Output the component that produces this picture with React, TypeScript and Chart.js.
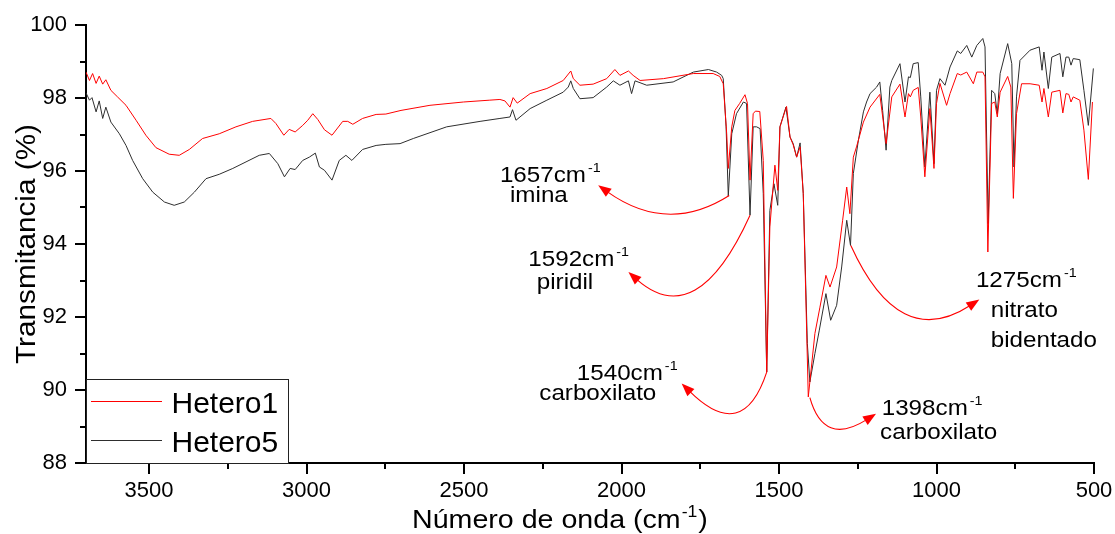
import React, { useEffect, useRef } from 'react';
import { Chart, registerables } from 'chart.js';

Chart.register(...registerables);

// ---------- data ----------
const seriesNames = ['Hetero1', 'Hetero5'];

const hetero1Wn = [
  3700, 3689, 3679, 3668, 3658, 3647, 3637, 3621, 3600, 3573, 3541, 3510, 3478, 3436, 3404, 3372, 3330, 3277, 3224, 3171,
  3113, 3097, 3072, 3055, 3036, 3012, 2996, 2980, 2964, 2943, 2919, 2885, 2869, 2853, 2822, 2779, 2748, 2700, 2608, 2502,
  2420, 2386, 2370, 2354, 2344, 2331, 2290, 2237, 2185, 2161, 2153, 2132, 2090, 2047, 2021, 2005, 1978, 1963, 1941, 1867,
  1772, 1709, 1688, 1677, 1666, 1661, 1650, 1640, 1625, 1608, 1600, 1592, 1582, 1575, 1561, 1550, 1539, 1529, 1513, 1504,
  1497, 1476, 1465, 1455, 1444, 1433, 1423, 1407, 1386, 1370, 1351, 1338, 1317, 1298, 1285, 1275, 1264, 1254, 1232, 1211,
  1180, 1160, 1142, 1116, 1100, 1089, 1083, 1074, 1058, 1050, 1037, 1021, 1008, 1000, 989, 968, 957, 934, 923, 904,
  883, 872, 853, 846, 837, 825, 815, 807, 798, 774, 764, 756, 746, 730, 703, 674, 665, 659, 645, 634,
  608, 599, 589, 580, 573, 566, 545, 532, 518, 505,
];
const hetero1T = [
  98.71, 98.48, 98.67, 98.4, 98.6, 98.38, 98.5, 98.21, 98.03, 97.8, 97.39, 96.98, 96.64, 96.46, 96.43, 96.59, 96.89, 97.02, 97.21, 97.36,
  97.44, 97.3, 96.98, 97.14, 97.07, 97.25, 97.39, 97.57, 97.41, 97.13, 96.98, 97.36, 97.36, 97.28, 97.44, 97.55, 97.56, 97.66, 97.8, 97.89,
  97.94, 97.96, 97.92, 97.75, 98.01, 97.86, 98.12, 98.26, 98.48, 98.74, 98.53, 98.35, 98.38, 98.53, 98.78, 98.62, 98.74, 98.62, 98.48, 98.53,
  98.67, 98.67, 98.59, 98.39, 97.02, 96.07, 97.21, 97.66, 97.85, 98.09, 97.85, 95.75, 97.57, 97.64, 97.63, 96.29, 90.49, 94.47, 96.16, 95.47,
  97.21, 97.77, 96.93, 96.72, 96.38, 96.66, 95.38, 89.81, 91.55, 92.27, 93.14, 92.82, 93.37, 94.65, 95.56, 94.83, 96.38, 96.66, 97.34, 97.75,
  98.1, 96.75, 98.03, 98.38, 97.48, 98.12, 98.03, 98.21, 98.29, 97.48, 95.84, 97.71, 96.07, 97.85, 98.4, 97.8, 98.12, 98.67, 98.63, 98.71,
  98.39, 98.71, 98.71, 98.58, 93.78, 97.85, 97.89, 97.48, 98.16, 98.59, 98.3, 95.25, 97.57, 98.39, 98.39, 98.35, 97.89, 98.26, 97.48, 98.16,
  98.21, 97.59, 98.12, 98.1, 97.89, 98.03, 97.94, 97.12, 95.77, 97.89,
];

const hetero5Wn = [
  3700, 3689, 3681, 3668, 3658, 3647, 3637, 3621, 3594, 3573, 3552, 3520, 3488, 3451, 3420, 3388, 3356, 3319, 3277, 3234,
  3192, 3150, 3118, 3091, 3070, 3052, 3036, 3012, 2991, 2972, 2959, 2943, 2919, 2896, 2875, 2856, 2822, 2779, 2748, 2703,
  2661, 2555, 2449, 2386, 2354, 2346, 2335, 2290, 2237, 2185, 2169, 2161, 2153, 2132, 2090, 2047, 2026, 2005, 1978, 1968,
  1957, 1920, 1836, 1772, 1724, 1698, 1682, 1677, 1668, 1661, 1650, 1635, 1613, 1603, 1592, 1582, 1571, 1560, 1550, 1539,
  1529, 1516, 1504, 1497, 1478, 1465, 1455, 1444, 1433, 1423, 1410, 1402, 1386, 1372, 1351, 1336, 1317, 1301, 1285, 1273,
  1264, 1248, 1232, 1222, 1211, 1190, 1180, 1171, 1160, 1148, 1142, 1116, 1100, 1089, 1083, 1074, 1058, 1050, 1037, 1021,
  1008, 1000, 989, 973, 957, 934, 923, 904, 888, 872, 853, 846, 836, 825, 815, 807, 798, 774, 761, 754,
  746, 735, 703, 674, 665, 659, 645, 634, 608, 599, 589, 580, 573, 566, 545, 532, 518, 502,
];
const hetero5T = [
  98.14, 97.94, 98.01, 97.62, 97.92, 97.44, 97.75, 97.34, 97.02, 96.7, 96.29, 95.79, 95.42, 95.15, 95.06, 95.15, 95.42, 95.79, 95.91, 96.07,
  96.25, 96.43, 96.48, 96.2, 95.84, 96.07, 96.04, 96.29, 96.38, 96.49, 96.11, 96.02, 95.75, 96.29, 96.43, 96.29, 96.59, 96.7, 96.73, 96.75,
  96.89, 97.21, 97.36, 97.44, 97.48, 97.68, 97.39, 97.71, 97.94, 98.16, 98.3, 98.47, 98.26, 97.98, 98.01, 98.3, 98.47, 98.35, 98.47, 98.12,
  98.47, 98.35, 98.44, 98.71, 98.78, 98.71, 98.62, 98.53, 97.21, 95.31, 97.02, 97.57, 97.89, 97.85, 94.79, 97.21, 97.21, 97.16, 95.38, 90.49,
  94.92, 95.65, 95.06, 97.21, 97.75, 96.93, 96.75, 96.38, 96.77, 95.38, 91.27, 90.22, 91.0, 91.64, 92.64, 91.91, 92.32, 93.37, 94.65, 93.96,
  95.93, 96.84, 97.62, 97.89, 98.12, 98.3, 98.44, 97.66, 96.57, 98.3, 98.48, 98.94, 97.89, 98.58, 98.56, 98.94, 98.97, 98.03, 96.11, 98.16,
  96.2, 98.21, 98.53, 98.35, 98.85, 99.29, 99.22, 99.44, 99.12, 99.44, 99.63, 99.4, 94.56, 98.21, 98.12, 97.57, 98.67, 99.49, 98.94, 96.11,
  98.03, 99.03, 99.31, 99.4, 98.76, 99.26, 98.26, 99.12, 99.22, 98.58, 99.12, 99.12, 98.9, 99.08, 99.05, 98.21, 97.25, 98.81,
];

const xTicks = [3500, 3000, 2500, 2000, 1500, 1000, 500];
const xMinorTicks = [3250, 2750, 2250, 1750, 1250, 750];
const yTicks = [88, 90, 92, 94, 96, 98, 100];
const yMinorTicks = [89, 91, 93, 95, 97, 99];

// annotation texts
const peakLabels = ['1657cm', '1592cm', '1540cm', '1398cm', '1275cm'];
const peakNames = [['imina'], ['piridil'], ['carboxilato'], ['carboxilato'], ['nitrato', 'bidentado']];

// annotation anchors (data coordinates: wavenumber, transmittance)
const arrowStart = [[1658, 95.33], [1592, 94.79], [1539, 90.49], [1402, 89.79], [1272, 93.96]];
const arrowLow = [[1836, 94.84], [1836, 92.66], [1656, 89.42], [1306, 88.99], [1021, 92.0]];
const arrowTip = [[2074, 95.61], [1978, 93.23], [1809, 90.18], [1192, 89.35], [864, 92.48]];
const labelAt = [[2386, 95.7], [2296, 93.39], [2142, 90.27], [1174, 89.31], [875, 92.81]];
const nameAt = [[[2354, 95.15]], [[2269, 92.78]], [[2261, 89.73]], [[1179, 88.67]], [[828, 92.0], [828, 91.18]]];

// ---------- styling ----------
const FONT = "'Liberation Sans', Arial, Helvetica, sans-serif";
const RED = '#ff0000';
const DARK = '#2e2e2e';
const SX = 1.1;

function drawStretched(ctx: CanvasRenderingContext2D, text: string, x: number, y: number, size: number, sx: number) {
  ctx.save();
  ctx.font = `${size}px ${FONT}`;
  ctx.textAlign = 'left';
  ctx.textBaseline = 'alphabetic';
  ctx.translate(x, y);
  ctx.scale(sx, 1);
  ctx.fillText(text, 0, 0);
  const w = ctx.measureText(text).width * sx;
  ctx.restore();
  return w;
}

// quadratic control point so that the curve S->E has its lowest point at B
function controlFor(S: any, B: any, E: any) {
  let best: any = null;
  for (let k = 1; k < 400; k++) {
    const t = k / 400;
    if (Math.abs(1 - 2 * t) < 1e-6) continue;
    const cy = (S.y * (1 - t) - t * E.y) / (1 - 2 * t);
    if (!(cy > B.y)) continue;
    const y = (1 - t) * (1 - t) * S.y + 2 * t * (1 - t) * cy + t * t * E.y;
    const err = Math.abs(y - B.y);
    if (!best || err < best.err) {
      const cx = (B.x - (1 - t) * (1 - t) * S.x - t * t * E.x) / (2 * t * (1 - t));
      best = { err, x: cx, y: cy };
    }
  }
  if (!best || best.err > 3) {
    return { x: 2 * B.x - (S.x + E.x) / 2, y: 2 * B.y - (S.y + E.y) / 2 };
  }
  return best;
}

const decorPlugin = {
  id: 'decor',
  afterDraw(chart: any) {
    const ctx: CanvasRenderingContext2D = chart.ctx;
    const xs = chart.scales.x;
    const ys = chart.scales.y;
    const area = chart.chartArea;
    ctx.save();

    // tick marks
    ctx.strokeStyle = '#000';
    ctx.lineWidth = 2;
    ctx.beginPath();
    xTicks.forEach((v) => {
      const p = Math.round(xs.getPixelForValue(v));
      ctx.moveTo(p, area.bottom);
      ctx.lineTo(p, area.bottom + 11);
    });
    xMinorTicks.forEach((v) => {
      const p = Math.round(xs.getPixelForValue(v));
      ctx.moveTo(p, area.bottom);
      ctx.lineTo(p, area.bottom + 6);
    });
    yTicks.forEach((v) => {
      const p = Math.round(ys.getPixelForValue(v));
      ctx.moveTo(area.left, p);
      ctx.lineTo(area.left - 11, p);
    });
    yMinorTicks.forEach((v) => {
      const p = Math.round(ys.getPixelForValue(v));
      ctx.moveTo(area.left, p);
      ctx.lineTo(area.left - 6, p);
    });
    ctx.stroke();

    ctx.fillStyle = '#000';
    // y title
    ctx.save();
    ctx.translate(35, (area.top + area.bottom) / 2);
    ctx.rotate(-Math.PI / 2);
    ctx.scale(SX, 1);
    ctx.font = `27px ${FONT}`;
    ctx.textAlign = 'center';
    ctx.textBaseline = 'alphabetic';
    ctx.fillText('Transmitancia (%)', 0, 0);
    ctx.restore();

    // x title with superscript
    {
      let x = 412;
      const y = 528;
      x += drawStretched(ctx, 'Número de onda (cm', x, y, 26, SX);
      x += drawStretched(ctx, '-1', x + 1, y - 11, 16, SX) + 1;
      drawStretched(ctx, ')', x + 1, y, 26, SX);
    }

    // legend
    {
      const bw = 202;
      const bh = 84;
      const left = area.left;
      const top = area.bottom - bh;
      ctx.fillStyle = '#fff';
      ctx.fillRect(left, top, bw, bh);
      ctx.strokeStyle = '#222';
      ctx.lineWidth = 1;
      ctx.strokeRect(left + 0.5, top + 0.5, bw, bh);
      const colors = [RED, DARK];
      const lineY = [22.5, 61.5];
      const textY = [34, 72.5];
      seriesNames.forEach((name, i) => {
        ctx.strokeStyle = colors[i];
        ctx.lineWidth = 1;
        ctx.beginPath();
        ctx.moveTo(left + 5, top + lineY[i]);
        ctx.lineTo(left + 76, top + lineY[i]);
        ctx.stroke();
        ctx.fillStyle = '#000';
        drawStretched(ctx, name, left + 85.5, top + textY[i], 30, 1.0);
      });
    }

    // annotations
    peakLabels.forEach((lab, i) => {
      const S = { x: xs.getPixelForValue(arrowStart[i][0]), y: ys.getPixelForValue(arrowStart[i][1]) };
      const B = { x: xs.getPixelForValue(arrowLow[i][0]), y: ys.getPixelForValue(arrowLow[i][1]) };
      const E = { x: xs.getPixelForValue(arrowTip[i][0]), y: ys.getPixelForValue(arrowTip[i][1]) };
      const C = controlFor(S, B, E);
      const dx = E.x - C.x;
      const dy = E.y - C.y;
      const len = Math.hypot(dx, dy) || 1;
      const ux = dx / len;
      const uy = dy / len;
      const headL = 13;
      const headW = 5;
      const bx = E.x - ux * headL;
      const by = E.y - uy * headL;
      ctx.strokeStyle = RED;
      ctx.lineWidth = 1.1;
      ctx.beginPath();
      ctx.moveTo(S.x, S.y);
      ctx.quadraticCurveTo(C.x, C.y, bx + ux * 2, by + uy * 2);
      ctx.stroke();
      ctx.fillStyle = RED;
      ctx.beginPath();
      ctx.moveTo(E.x, E.y);
      ctx.lineTo(bx - uy * headW, by + ux * headW);
      ctx.lineTo(bx + uy * headW, by - ux * headW);
      ctx.closePath();
      ctx.fill();

      ctx.fillStyle = '#000';
      const lx = xs.getPixelForValue(labelAt[i][0]);
      const ly = ys.getPixelForValue(labelAt[i][1]);
      const w = drawStretched(ctx, lab, lx, ly, 22, SX);
      drawStretched(ctx, '-1', lx + w + 2, ly - 10, 13, SX);
      peakNames[i].forEach((nm, j) => {
        const nx = xs.getPixelForValue(nameAt[i][j][0]);
        const ny = ys.getPixelForValue(nameAt[i][j][1]);
        drawStretched(ctx, nm, nx, ny, 22, SX);
      });
    });

    ctx.restore();
  },
};

export default function App() {
  const ref = useRef<HTMLCanvasElement | null>(null);

  useEffect(() => {
    if (!ref.current) return;
    const chart = new Chart(ref.current, {
      type: 'line',
      data: {
        datasets: [
          {
            label: seriesNames[0],
            data: hetero1Wn.map((x, i) => ({ x, y: hetero1T[i] })),
            borderColor: RED,
            borderWidth: 1,
            pointRadius: 0,
            tension: 0,
            fill: false,
          },
          {
            label: seriesNames[1],
            data: hetero5Wn.map((x, i) => ({ x, y: hetero5T[i] })),
            borderColor: DARK,
            borderWidth: 1,
            pointRadius: 0,
            tension: 0,
            fill: false,
          },
        ],
      },
      options: {
        responsive: false,
        animation: false,
        events: [],
        layout: { padding: { left: 0, right: 21, top: 25, bottom: 0 } },
        plugins: { legend: { display: false }, tooltip: { enabled: false }, title: { display: false } },
        scales: {
          x: {
            type: 'linear',
            reverse: true,
            min: 500,
            max: 3700,
            grid: { display: false, drawTicks: false },
            border: { display: true, color: '#000', width: 2 },
            ticks: {
              color: '#000',
              font: { family: FONT, size: 22 },
              padding: 15,
              maxRotation: 0,
              autoSkip: false,
              callback: (v: any) => String(v),
            },
            afterBuildTicks: (s: any) => {
              s.ticks = xTicks.map((v) => ({ value: v }));
            },
            afterFit: (s: any) => {
              s.height = 71;
              s.paddingLeft = 0;
              s.paddingRight = 0;
            },
          },
          y: {
            type: 'linear',
            min: 88,
            max: 100,
            grid: { display: false, drawTicks: false },
            border: { display: true, color: '#000', width: 2 },
            ticks: {
              color: '#000',
              font: { family: FONT, size: 22 },
              padding: 19,
              autoSkip: false,
              callback: (v: any) => String(v),
            },
            afterBuildTicks: (s: any) => {
              s.ticks = yTicks.map((v) => ({ value: v }));
            },
            afterFit: (s: any) => {
              s.width = 86;
              s.paddingTop = 0;
              s.paddingBottom = 0;
            },
          },
        },
      },
      plugins: [decorPlugin],
    } as any);
    return () => chart.destroy();
  }, []);

  return (
    <div style={{ position: 'absolute', left: 0, top: 0, width: 1115, height: 534, background: '#fff' }}>
      <canvas ref={ref} width={1115} height={534} style={{ display: 'block' }} />
    </div>
  );
}
